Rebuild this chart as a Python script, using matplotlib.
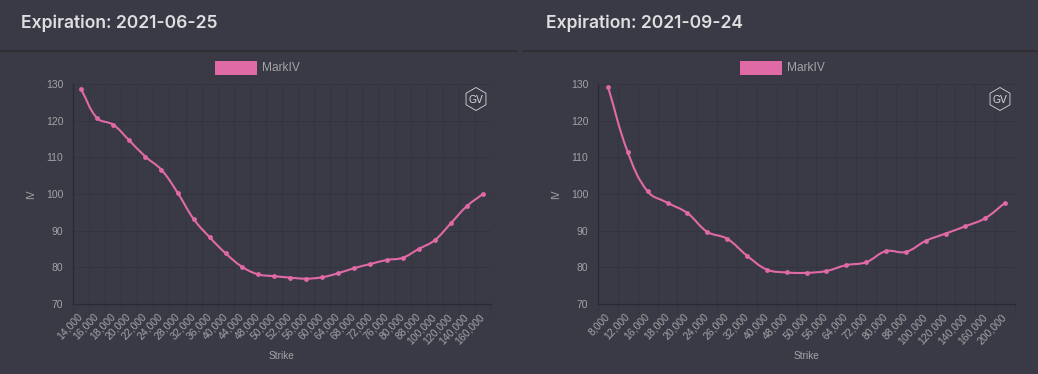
import numpy as np
import matplotlib
matplotlib.use('Agg')
import matplotlib.pyplot as plt
from matplotlib.path import Path
from matplotlib.patches import PathPatch, Rectangle, RegularPolygon

W, H = 1038, 374
BG = '#3a3a46'
PINK = '#e06aa6'
GRID = '#343440'
AXIS = '#2a2a33'
TXT = '#a3a3a6'

strikes_jun = [14, 16, 18, 20, 22, 24, 28, 32, 36, 40, 44, 48, 50, 52, 56, 60,
               64, 68, 72, 76, 80, 88, 100, 120, 140, 160]
iv_jun = [128.6, 120.7, 118.9, 114.6, 110.2, 106.6, 100.4, 93.2, 88.2, 83.8,
          80.2, 78.1, 77.6, 77.2, 76.9, 77.3, 78.4, 79.8, 80.9, 82.0, 82.6,
          85.0, 87.4, 92.0, 96.7, 100.0]

strikes_sep = [8, 12, 16, 18, 20, 24, 26, 32, 40, 48, 50, 56, 64, 72, 80, 88,
               100, 120, 140, 160, 200]
iv_sep = [129.3, 111.4, 100.7, 97.6, 94.8, 89.7, 87.8, 83.2, 79.4, 78.6, 78.5,
          79.0, 80.6, 81.4, 84.4, 84.2, 87.2, 89.2, 91.2, 93.4, 97.6]

titles = ['Expiration: 2021-06-25', 'Expiration: 2021-09-24']
y_ticks = [70, 80, 90, 100, 110, 120, 130]

plt.rcParams['font.family'] = ['Liberation Sans', 'DejaVu Sans']
fig = plt.figure(figsize=(W / 100, H / 100), dpi=100, facecolor=BG)

# overlay in pixel coords for header, legend and logo
bg = fig.add_axes([0, 0, 1, 1], zorder=5)
bg.set_xlim(0, W)
bg.set_ylim(H, 0)
bg.axis('off')


def spline_path(x, y, sx, sy, t=0.4):
    # same bezier control points as a chart.js line with tension 0.4
    x = np.asarray(x, float)
    y = np.asarray(y, float)
    n = len(x)
    c1, c2 = [], []
    for i in range(n):
        a, b = max(i - 1, 0), min(i + 1, n - 1)
        d01 = np.hypot((x[i] - x[a]) * sx, (y[i] - y[a]) * sy)
        d12 = np.hypot((x[b] - x[i]) * sx, (y[b] - y[i]) * sy)
        s = d01 + d12
        fa, fb = t * d01 / s, t * d12 / s
        dx, dy = x[b] - x[a], y[b] - y[a]
        c1.append((x[i] - fa * dx, y[i] - fa * dy))
        c2.append((x[i] + fb * dx, y[i] + fb * dy))
    verts = [(x[0], y[0])]
    codes = [Path.MOVETO]
    for i in range(n - 1):
        verts += [c2[i], c1[i + 1], (x[i + 1], y[i + 1])]
        codes += [Path.CURVE4] * 3
    return Path(verts, codes)


def draw_panel(left, right, strikes, iv, title, title_x, hdr):
    top, bottom = 84, 304
    ax = fig.add_axes([left / W, (H - bottom) / H, (right - left) / W, (bottom - top) / H])
    ax.set_facecolor('none')
    n = len(strikes)
    pos = np.arange(n)
    ax.set_xlim(-0.5, n - 0.5)
    ax.set_ylim(70, 130)
    ax.set_yticks(y_ticks)
    ax.set_xticks(pos)
    ax.set_xticks(np.arange(n + 1) - 0.5, minor=True)
    ax.set_xticklabels([f'{s},000' for s in strikes], rotation=47, ha='right',
                       va='center', rotation_mode='anchor', fontsize=7.6, color=TXT)
    ax.tick_params(axis='x', which='major', length=0, pad=8)
    ax.tick_params(axis='x', which='minor', length=7.2, width=0.7, color=GRID)
    ax.tick_params(axis='y', length=0, pad=7, labelsize=7.5, labelcolor=TXT)
    ax.grid(True, axis='x', which='minor', color=GRID, lw=0.7)
    ax.grid(True, axis='y', which='major', color=GRID, lw=0.7)
    ax.set_axisbelow(True)
    for k in ['top', 'right']:
        ax.spines[k].set_visible(False)
    ax.spines['left'].set_color(AXIS)
    ax.spines['bottom'].set_color(AXIS)
    ax.spines['left'].set_linewidth(0.9)
    ax.spines['bottom'].set_linewidth(0.9)

    sx = (right - left) / n
    sy = (bottom - top) / 60
    ax.add_patch(PathPatch(spline_path(pos, iv, sx, sy), fc='none', ec=PINK, lw=1.5,
                           clip_on=False, zorder=3))
    ax.plot(pos, iv, ls='none', marker='o', ms=2.9, mfc=PINK, mec=PINK, mew=0.5,
            clip_on=False, zorder=4)

    mid = (left + right) / 2
    bg.text(mid, 356, 'Strike', color=TXT, fontsize=7.3, ha='center', va='center')
    bg.text(left - 42, 194, 'IV', color=TXT, fontsize=7.3, ha='center', va='center', rotation=90)

    # legend box
    bg.add_patch(Rectangle((mid - 67, 61), 42, 14, fc=PINK, ec='none'))
    bg.text(mid - 20, 67.5, 'MarkIV', color=TXT, fontsize=8.6, ha='left', va='center')

    # logo
    cx = right - 15
    bg.add_patch(RegularPolygon((cx, 99), 6, radius=11.5, fc='none', ec='#d8d8dc', lw=0.6))
    bg.text(cx, 99.5, 'GV', color='#d8d8dc', fontsize=7.4, ha='center', va='center')

    # header
    bg.text(title_x, 23, title, color='#dedee0', fontsize=12.6, fontweight='semibold',
            family=['Inter', 'DejaVu Sans'], ha='left', va='center')
    bg.plot(hdr, [51, 51], color='#2e2e33', lw=1.3, solid_capstyle='butt')


draw_panel(73, 491, strikes_jun, iv_jun, titles[0], 21, [0, 518])
draw_panel(598, 1015, strikes_sep, iv_sep, titles[1], 546, [522, W])

fig.savefig('out.png', dpi=100, facecolor=BG)
